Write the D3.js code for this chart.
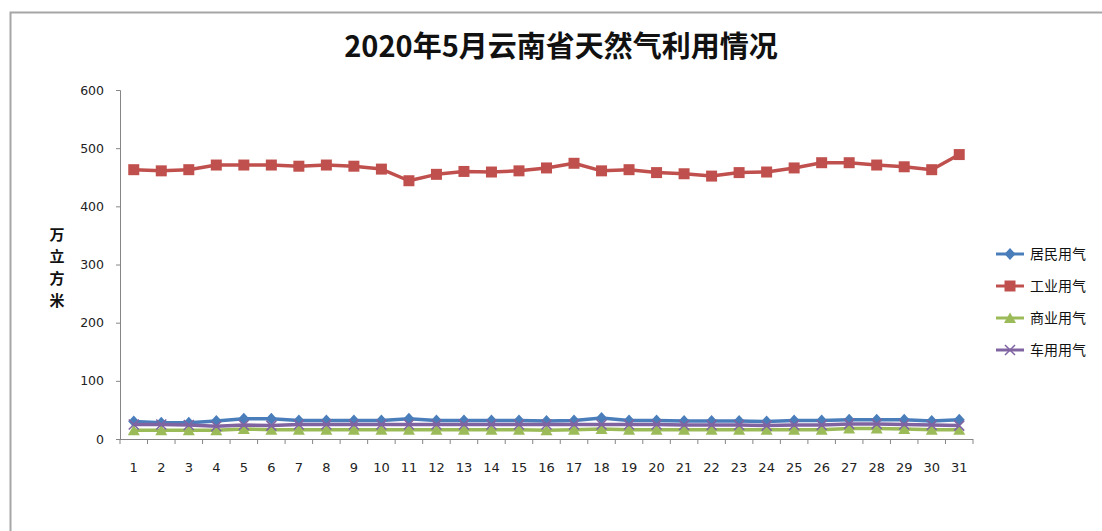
<!DOCTYPE html>
<html>
<head>
<meta charset="utf-8">
<script src="https://cdn.jsdelivr.net/npm/d3@7"></script>
<style>
  body { margin: 0; background: #fff; }
  text { font-family: "Noto Sans CJK SC", "Noto Sans", sans-serif; }
</style>
</head>
<body>
<div id="chart"></div>
<script>
const days = ["1","2","3","4","5","6","7","8","9","10","11","12","13","14","15","16","17","18","19","20","21","22","23","24","25","26","27","28","29","30","31"]
const yTicks = [0, 100, 200, 300, 400, 500, 600]
const seriesNames = ["居民用气", "工业用气", "商业用气", "车用用气"]
const residential = [30,28,28,31,35,35,32,32,32,32,35,32,32,32,32,31,32,36,32,32,31,31,31,30,32,32,33,33,33,31,33]
const industrial = [463,461,463,471,471,471,469,471,469,464,444,455,460,459,461,466,474,461,463,458,456,452,458,459,466,475,475,471,468,463,489]
const commercial = [15,15,15,15,17,16,16,16,16,16,16,16,16,16,16,15,16,17,16,16,16,16,16,16,16,16,18,18,17,16,16]
const vehicle = [25,25,24,22,24,23,25,25,25,25,25,25,25,25,25,25,25,25,25,25,24,24,24,23,24,24,26,26,25,24,23]

const colors = ["#4a7ebb", "#c0504d", "#9bbb59", "#8064a2"]
const markers = ["diamond", "square", "triangle", "cross"]
const series = [residential, industrial, commercial, vehicle]

const W = 1102, H = 531
const svg = d3.select("#chart").append("svg").attr("width", W).attr("height", H)

// chart frame
svg.append("rect")
  .attr("x", 10.5).attr("y", 12.5).attr("width", W + 20).attr("height", H + 20)
  .attr("fill", "none").attr("stroke", "#a6a6a6").attr("stroke-width", 2)

svg.append("text")
  .attr("x", 561).attr("y", 57)
  .attr("text-anchor", "middle")
  .attr("font-size", 29).attr("font-weight", "bold")
  .attr("fill", "#111")
  .text("2020年5月云南省天然气利用情况")

const x = d3.scaleBand().domain(days).range([120, 973])
const y = d3.scaleLinear().domain([0, 600]).range([439, 90])

// y axis
const yAxis = svg.append("g")
  .attr("transform", "translate(120,0)")
  .call(d3.axisLeft(y).tickValues(yTicks).tickSize(4).tickPadding(12))
yAxis.select(".domain").attr("stroke", "#868686")
yAxis.selectAll(".tick line").attr("stroke", "#868686")
yAxis.selectAll("text").attr("fill", "#222")
  .style("font-family", "'DejaVu Sans', sans-serif").attr("font-size", 12.5)

// x axis
const xAxis = svg.append("g")
  .attr("transform", "translate(0,439)")
  .call(d3.axisBottom(x).tickSize(0).tickPadding(24))
xAxis.select(".domain").attr("stroke", "#868686").attr("d", "M116,0.5H973")
xAxis.selectAll("text").attr("fill", "#222")
  .style("font-family", "'DejaVu Sans', sans-serif").attr("font-size", 13)
xAxis.selectAll(".bound")
  .data(days.concat(["end"]))
  .join("line")
  .attr("x1", (d, i) => 120 + i * x.step()).attr("x2", (d, i) => 120 + i * x.step())
  .attr("y1", 0).attr("y2", 5)
  .attr("stroke", "#868686")

// y axis title, stacked vertical
const yTitle = "万立方米"
svg.append("g").selectAll("text")
  .data(yTitle.split(""))
  .join("text")
  .attr("x", 57).attr("y", (d, i) => 240 + i * 22)
  .attr("text-anchor", "middle")
  .attr("font-size", 15).attr("font-weight", "bold")
  .attr("fill", "#111")
  .text(d => d)

const markerPath = (type, cx, cy) => {
  if (type === "diamond") return `M${cx},${cy - 6}L${cx + 5.5},${cy}L${cx},${cy + 6}L${cx - 5.5},${cy}Z`
  if (type === "square") return `M${cx - 5.5},${cy - 5.5}h11v11h-11Z`
  if (type === "triangle") return `M${cx},${cy - 5.5}L${cx + 6},${cy + 5}L${cx - 6},${cy + 5}Z`
  return `M${cx - 5},${cy - 5}L${cx + 5},${cy + 5}M${cx + 5},${cy - 5}L${cx - 5},${cy + 5}`
}

const line = d3.line()
  .x((d, i) => x(days[i]) + x.bandwidth() / 2)
  .y(d => y(d))

series.forEach((values, k) => {
  const g = svg.append("g")
  g.append("path")
    .datum(values)
    .attr("d", line)
    .attr("fill", "none")
    .attr("stroke", colors[k])
    .attr("stroke-width", 3.5)
    .attr("stroke-linejoin", "round")
  g.selectAll("path.m")
    .data(values)
    .join("path")
    .attr("class", "m")
    .attr("d", (d, i) => markerPath(markers[k], x(days[i]) + x.bandwidth() / 2, y(d)))
    .attr("fill", markers[k] === "cross" ? "none" : colors[k])
    .attr("stroke", colors[k])
    .attr("stroke-width", markers[k] === "cross" ? 1.5 : 0)
})

// legend
const legend = svg.append("g")
seriesNames.forEach((name, k) => {
  const ly = 254 + k * 32
  legend.append("line")
    .attr("x1", 996).attr("x2", 1024).attr("y1", ly).attr("y2", ly)
    .attr("stroke", colors[k]).attr("stroke-width", 3)
  legend.append("path")
    .attr("d", markerPath(markers[k], 1010, ly))
    .attr("fill", markers[k] === "cross" ? "none" : colors[k])
    .attr("stroke", colors[k])
    .attr("stroke-width", markers[k] === "cross" ? 1.5 : 0)
  legend.append("text")
    .attr("x", 1030).attr("y", ly + 5)
    .attr("font-size", 14).attr("fill", "#111")
    .text(name)
})
</script>
</body>
</html>
